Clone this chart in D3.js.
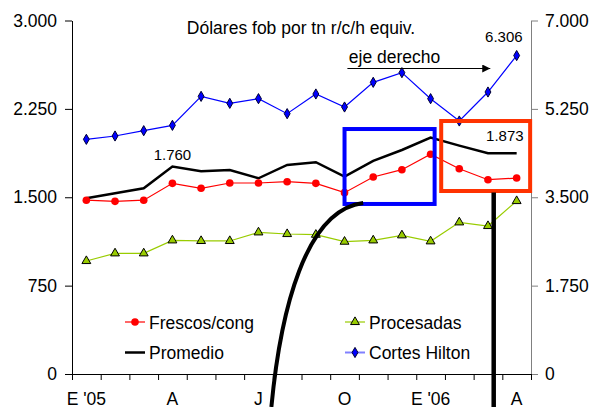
<!DOCTYPE html>
<html>

<head>
    <meta charset="utf-8">
    <script src="https://cdn.jsdelivr.net/npm/d3@7/dist/d3.min.js"></script>
    <style>
        body { margin: 0; background: #fff; }
        text { font-family: "Liberation Sans", Arial, sans-serif; }
    </style>
</head>

<body>
    <div id="my_dataviz"></div>
    <script>

        // months Jan 2005 .. Apr 2006
        var monthLabels = ["E '05", "", "", "A", "", "", "J", "", "", "O", "", "", "E '06", "", "", "A"];

        // left axis series (dolares / tn)
        var frescos = [1475, 1465, 1475, 1618, 1576, 1621, 1621, 1632, 1618, 1539, 1672, 1734, 1865, 1742, 1649, 1663];
        var promedio = [1491, 1534, 1576, 1760, 1720, 1731, 1661, 1774, 1797, 1675, 1808, 1901, 2006, 1938, 1873, 1873];
        var procesadas = [959, 1024, 1024, 1134, 1129, 1129, 1202, 1188, 1182, 1123, 1134, 1177, 1126, 1287, 1256, 1468];
        // right axis series
        var hilton = [4647, 4713, 4818, 4924, 5498, 5360, 5452, 5155, 5545, 5287, 5776, 5967, 5452, 5010, 5584, 6306];

        var leftTicks = [0, 750, 1500, 2250, 3000];
        var rightTicks = [0, 1750, 3500, 5250, 7000];

        // dimensions (window.top is read-only, so use other names)
        var W = 591, H = 407;
        var mLeft = 72, mRight = 531, mTop = 20.5, mBottom = 374;

        var svg = d3.select("#my_dataviz")
            .append("svg")
            .attr("width", W)
            .attr("height", H);

        var loc = d3.formatLocale({ decimal: ",", thousands: ".", grouping: [3], currency: ["", ""] });
        var fmt = loc.format(",d");

        var idx = d3.range(monthLabels.length);
        var x = d3.scaleBand().domain(idx).range([mLeft, mRight]);
        var cx = function (i) { return x(i) + x.bandwidth() / 2; };
        // continuous version of the month scale (for annotations)
        var xi = d3.scaleLinear().domain([0, 15]).range([cx(0), cx(15)]);
        var yL = d3.scaleLinear().domain([0, 3000]).range([mBottom, mTop]);
        var yR = d3.scaleLinear().domain([0, 7000]).range([mBottom, mTop]);

        var styleText = function (g) {
            g.selectAll("text").attr("font-size", 17.5).attr("font-family", null).attr("fill", "#000");
        };

        // axes
        var ax = svg.append("g");

        ax.append("g")
            .attr("transform", "translate(" + mLeft + ",0)")
            .call(d3.axisLeft(yL).tickValues(leftTicks).tickFormat(fmt).tickSize(7).tickPadding(8).tickSizeOuter(0))
            .call(styleText);

        ax.append("g")
            .attr("transform", "translate(" + mRight + ",0)")
            .call(d3.axisRight(yR).tickValues(rightTicks).tickFormat(fmt).tickSize(7).tickPadding(7).tickSizeOuter(0))
            .call(function (g) { g.selectAll("line, path").attr("stroke", "#808080"); })
            .call(styleText);

        // x axis: boundary ticks
        var xb = d3.scaleLinear().domain([0, 16]).range([mLeft, mRight]);
        ax.append("g")
            .attr("transform", "translate(0," + mBottom + ")")
            .call(d3.axisBottom(xb).ticks(16).tickFormat("").tickSize(6).tickSizeOuter(0));

        // x axis: labels at band centres
        ax.append("g")
            .attr("transform", "translate(0," + mBottom + ")")
            .call(d3.axisBottom(x).tickFormat(function (i) { return monthLabels[i]; }).tickSize(0).tickPadding(19))
            .call(function (g) { g.select(".domain").remove(); })
            .call(styleText);

        // title
        svg.append("text")
            .attr("x", 301).attr("y", 34)
            .attr("text-anchor", "middle")
            .attr("font-size", 17.5)
            .text("Dólares fob por tn r/c/h equiv.");

        // lines
        var lineL = d3.line().x(function (d, i) { return cx(i); }).y(function (d) { return yL(d); });
        var lineR = d3.line().x(function (d, i) { return cx(i); }).y(function (d) { return yR(d); });

        svg.append("path").datum(procesadas)
            .attr("d", lineL).attr("fill", "none").attr("stroke", "#99cc00").attr("stroke-width", 1.2);
        svg.append("path").datum(hilton)
            .attr("d", lineR).attr("fill", "none").attr("stroke", "#0000ff").attr("stroke-width", 1.2);
        svg.append("path").datum(frescos)
            .attr("d", lineL).attr("fill", "none").attr("stroke", "#ff0000").attr("stroke-width", 1.2);
        svg.append("path").datum(promedio)
            .attr("d", lineL).attr("fill", "none").attr("stroke", "#000").attr("stroke-width", 2.5);

        // markers
        var tri = d3.symbol().type(d3.symbolTriangle).size(34);
        var dia = d3.symbol().type(d3.symbolDiamond).size(30);

        svg.append("g").selectAll("path")
            .data(procesadas).enter().append("path")
            .attr("d", tri)
            .attr("transform", function (d, i) { return "translate(" + cx(i) + "," + yL(d) + ")"; })
            .attr("fill", "#99cc00").attr("stroke", "#000").attr("stroke-width", 1);

        svg.append("g").selectAll("path")
            .data(hilton).enter().append("path")
            .attr("d", dia)
            .attr("transform", function (d, i) { return "translate(" + cx(i) + "," + yR(d) + ")"; })
            .attr("fill", "#0000ff").attr("stroke", "#000033").attr("stroke-width", 1);

        svg.append("g").selectAll("circle")
            .data(frescos).enter().append("circle")
            .attr("cx", function (d, i) { return cx(i); })
            .attr("cy", function (d) { return yL(d); })
            .attr("r", 3.8)
            .attr("fill", "#ff0000");

        // value labels
        svg.append("text")
            .attr("x", cx(3)).attr("y", yL(promedio[3]) - 7)
            .attr("text-anchor", "middle").attr("font-size", 15)
            .text(fmt(promedio[3]));
        svg.append("text")
            .attr("x", cx(15) + 7).attr("y", yL(promedio[15]) - 12)
            .attr("text-anchor", "end").attr("font-size", 15)
            .text(fmt(promedio[15]));
        svg.append("text")
            .attr("x", cx(15) + 6).attr("y", yR(hilton[15]) - 14)
            .attr("text-anchor", "end").attr("font-size", 15)
            .text(fmt(hilton[15]));

        // "eje derecho" note with arrow
        svg.append("defs").append("marker")
            .attr("id", "arr").attr("viewBox", "0 0 10 10")
            .attr("refX", 10).attr("refY", 5)
            .attr("markerWidth", 9).attr("markerHeight", 8)
            .attr("markerUnits", "userSpaceOnUse")
            .attr("orient", "auto")
            .append("path").attr("d", "M0,0L10,5L0,10Z").attr("fill", "#000");
        svg.append("text")
            .attr("x", xi(9.15)).attr("y", 63)
            .attr("font-size", 17.5)
            .text("eje derecho");
        svg.append("line")
            .attr("x1", xi(9.1)).attr("x2", xi(14.08))
            .attr("y1", 68.5).attr("y2", 68.5)
            .attr("stroke", "#000").attr("stroke-width", 1.2)
            .attr("marker-end", "url(#arr)");

        // highlight boxes
        svg.append("rect")
            .attr("x", xi(9)).attr("y", yL(2079))
            .attr("width", xi(12.14) - xi(9)).attr("height", yL(1443) - yL(2079))
            .attr("fill", "none").attr("stroke", "#0000ff").attr("stroke-width", 4);
        svg.append("rect")
            .attr("x", xi(12.37)).attr("y", yL(2147))
            .attr("width", xi(15.47) - xi(12.37)).attr("height", yL(1553) - yL(2147))
            .attr("fill", "none").attr("stroke", "#ff3300").attr("stroke-width", 4);

        // thick black connectors
        var path = d3.path();
        path.moveTo(xi(6.45), yL(-280));
        path.bezierCurveTo(xi(6.77), yL(545), xi(7.64), yL(1392), xi(9.65), yL(1451));
        svg.append("path")
            .attr("d", path.toString())
            .attr("fill", "none").attr("stroke", "#000").attr("stroke-width", 4);
        svg.append("line")
            .attr("x1", xi(14.2)).attr("x2", xi(14.2))
            .attr("y1", yL(1540)).attr("y2", H)
            .attr("stroke", "#000").attr("stroke-width", 4.5);

        // legend
        var legend = [
            { name: "Frescos/cong", col: 0, row: 0, color: "#ff0000", mark: "circle" },
            { name: "Procesadas", col: 1, row: 0, color: "#99cc00", mark: "tri" },
            { name: "Promedio", col: 0, row: 1, color: "#000", mark: "none" },
            { name: "Cortes Hilton", col: 1, row: 1, color: "#8080ff", mark: "dia" }
        ];
        var lg = svg.append("g").selectAll("g")
            .data(legend).enter().append("g")
            .attr("transform", function (d) { return "translate(" + (d.col ? 345 : 125) + "," + (d.row ? 352.5 : 322) + ")"; });
        lg.append("line")
            .attr("x1", 0).attr("x2", 20)
            .attr("stroke", function (d) { return d.color; })
            .attr("stroke-width", function (d) { return d.mark == "none" ? 2.5 : (d.mark == "dia" ? 2 : 1.2); });
        lg.filter(function (d) { return d.mark == "circle"; }).append("circle")
            .attr("cx", 10).attr("r", 3.8).attr("fill", "#ff0000");
        lg.filter(function (d) { return d.mark == "tri"; }).append("path")
            .attr("d", tri).attr("transform", "translate(10,0)")
            .attr("fill", "#99cc00").attr("stroke", "#000");
        lg.filter(function (d) { return d.mark == "dia"; }).append("path")
            .attr("d", dia).attr("transform", "translate(10,0)")
            .attr("fill", "#0000ff").attr("stroke", "#000033");
        lg.append("text")
            .attr("x", 24).attr("y", 6.5)
            .attr("font-size", 17.5)
            .text(function (d) { return d.name; });

    </script>
</body>

</html>
